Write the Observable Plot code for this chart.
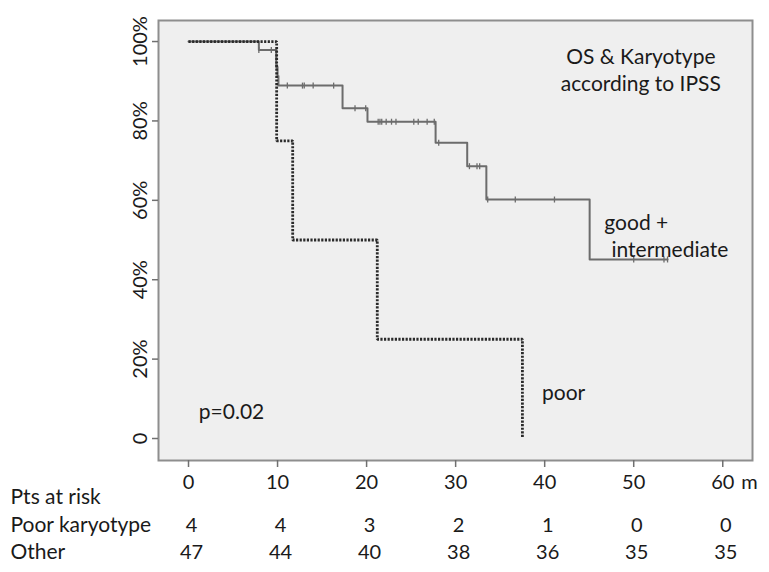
<!DOCTYPE html>
<html>
<head>
<meta charset="utf-8">
<script src="https://cdn.jsdelivr.net/npm/d3@7"></script>
<script src="https://cdn.jsdelivr.net/npm/@observablehq/plot@0.6"></script>
<style>
  html, body { margin: 0; padding: 0; background: #ffffff; }
  #chart svg { display: block; }
</style>
</head>
<body>
<div id="chart"></div>
<script>
// ---- data ----
const xTicks = [0, 10, 20, 30, 40, 50, 60];
const yTicks = [0, 20, 40, 60, 80, 100];
const yTickLabels = ["0", "20%", "40%", "60%", "80%", "100%"];

// "good + intermediate" Kaplan-Meier steps (months, % surviving)
const goodTimes = [0, 7.9, 9.85, 10.0, 10.1, 17.3, 20.1, 27.75, 31.3, 33.45, 45.05, 53.8];
const goodSurv  = [100, 97.9, 93.6, 91.3, 88.9, 83.2, 79.8, 74.5, 68.6, 60.2, 45.1, 45.1];

// censored observations of "good + intermediate"
const goodCensorTimes = [7.9, 9.3, 9.95, 11.1, 12.8, 13.0, 14.0, 16.3, 18.7, 19.9,
  21.3, 21.5, 21.7, 22.2, 22.8, 23.3, 25.3, 25.8, 26.8, 27.6, 28.1,
  31.55, 32.4, 32.7, 33.6, 36.7, 41.1, 50.0, 53.4, 53.8];
const goodCensorSurv = [97.9, 97.9, 93.6, 88.9, 88.9, 88.9, 88.9, 88.9, 83.2, 83.2,
  79.8, 79.8, 79.8, 79.8, 79.8, 79.8, 79.8, 79.8, 79.8, 79.8, 74.5,
  68.6, 68.6, 68.6, 60.2, 60.2, 60.2, 45.1, 45.1, 45.1];

// "poor" karyotype steps
const poorTimes = [0, 9.9, 11.7, 21.2, 37.5];
const poorSurv  = [100, 75, 50, 25, 0];

// patients at risk
const riskTimes = [0, 10, 20, 30, 40, 50, 60];
const riskPoor  = [4, 4, 3, 2, 1, 0, 0];
const riskOther = [47, 44, 40, 38, 36, 35, 35];
const riskRowLabels = ["Pts at risk", "Poor karyotype", "Other"];

// ---- build tables ----
const good = goodTimes.map((t, i) => ({t, s: goodSurv[i]}));
const goodC = goodCensorTimes.map((t, i) => ({t, s: goodCensorSurv[i]}));
const poor = poorTimes.map((t, i) => ({t, s: poorSurv[i]}));
const poorRow = riskTimes.map((t, i) => ({t, n: riskPoor[i]}));
const otherRow = riskTimes.map((t, i) => ({t, n: riskOther[i]}));
const yLab = yTicks.map((v, i) => ({v, label: yTickLabels[i]}));

const vbar = {
  draw(ctx, size) {
    const h = Math.sqrt(size / Math.PI);
    ctx.moveTo(0, -h);
    ctx.lineTo(0, h);
  }
};

const FS = 21;   // words
const FN = 20;   // numbers
const ink = "#1a1a1a";

const chart = Plot.plot({
  width: 769,
  height: 572,
  marginLeft: 158,
  marginRight: 17,
  marginTop: 20,
  marginBottom: 112,
  x: {domain: [-3.37, 63.34]},
  y: {domain: [-5.54, 105.3]},
  style: {fontFamily: "Lato, 'Open Sans', sans-serif", fontSize: FS + "px", background: "#ffffff", color: ink, overflow: "visible"},
  marks: [
    Plot.frame({fill: "#efefef", stroke: "#8e8e8e", strokeWidth: 2}),
    Plot.axisX(xTicks, {tickSize: 7, tickFormat: () => "", label: null, stroke: "#707070", strokeWidth: 1.5}),
    Plot.axisY(yTicks, {tickSize: 6, tickFormat: () => "", label: null, stroke: "#707070", strokeWidth: 1.5}),

    Plot.line(good, {x: "t", y: "s", curve: "step-after", stroke: "#6c6c6c", strokeWidth: 2}),
    Plot.dot(goodC, {x: "t", y: "s", symbol: vbar, r: 3, fill: "none", stroke: "#6c6c6c", strokeWidth: 1.3}),
    Plot.line(poor, {x: "t", y: "s", curve: "step-after", stroke: "#2a2a2a", strokeWidth: 2.8, strokeDasharray: "2.2,1.4", strokeLinecap: "butt", strokeLinejoin: "miter"}),

    // y tick labels (rotated)
    Plot.text(yLab, {y: "v", text: "label", frameAnchor: "left", dx: -18, rotate: -90, textAnchor: "middle", lineAnchor: "middle", fontSize: FN, fill: ink}),
    // x tick labels
    Plot.text(xTicks, {x: d => d, text: d => String(d), frameAnchor: "bottom", dy: 22, textAnchor: "middle", lineAnchor: "middle", fontSize: FN, fill: ink}),
    Plot.text(["m"], {x: () => 60, text: d => d, frameAnchor: "bottom", dy: 22, dx: 18.5, textAnchor: "start", lineAnchor: "middle", fontSize: FN, fill: ink}),

    // annotations
    Plot.text(["OS & Karyotype"], {x: () => 50.8, y: () => 96.0, text: d => d, textAnchor: "middle", lineAnchor: "middle", fontSize: FS, fill: ink}),
    Plot.text(["according to IPSS"], {x: () => 50.8, y: () => 89.2, text: d => d, textAnchor: "middle", lineAnchor: "middle", fontSize: FS, fill: ink}),
    Plot.text(["good +"], {x: () => 46.7, y: () => 54.2, text: d => d, textAnchor: "start", lineAnchor: "middle", fontSize: FS, fill: ink}),
    Plot.text(["intermediate"], {x: () => 47.5, y: () => 47.4, text: d => d, textAnchor: "start", lineAnchor: "middle", fontSize: FS, fill: ink}),
    Plot.text(["poor"], {x: () => 39.7, y: () => 11.3, text: d => d, textAnchor: "start", lineAnchor: "middle", fontSize: FS, fill: ink}),
    Plot.text(["p=0.02"], {x: () => 1.16, y: () => 6.6, text: d => d, textAnchor: "start", lineAnchor: "middle", fontSize: FS, fill: ink}),

    // at-risk table
    Plot.text([riskRowLabels[0]], {text: d => d, frameAnchor: "bottom-left", dx: -148, dy: 37, textAnchor: "start", lineAnchor: "middle", fontSize: FS, fill: ink}),
    Plot.text([riskRowLabels[1]], {text: d => d, frameAnchor: "bottom-left", dx: -148, dy: 65, textAnchor: "start", lineAnchor: "middle", fontSize: FS, fill: ink}),
    Plot.text([riskRowLabels[2]], {text: d => d, frameAnchor: "bottom-left", dx: -148, dy: 92, textAnchor: "start", lineAnchor: "middle", fontSize: FS, fill: ink}),
    Plot.text(poorRow, {x: "t", text: d => String(d.n), frameAnchor: "bottom", dy: 65, dx: 3, textAnchor: "middle", lineAnchor: "middle", fontSize: FN, fill: ink}),
    Plot.text(otherRow, {x: "t", text: d => String(d.n), frameAnchor: "bottom", dy: 92, dx: 3, textAnchor: "middle", lineAnchor: "middle", fontSize: FN, fill: ink})
  ]
});

document.getElementById("chart").appendChild(chart);
</script>
</body>
</html>
